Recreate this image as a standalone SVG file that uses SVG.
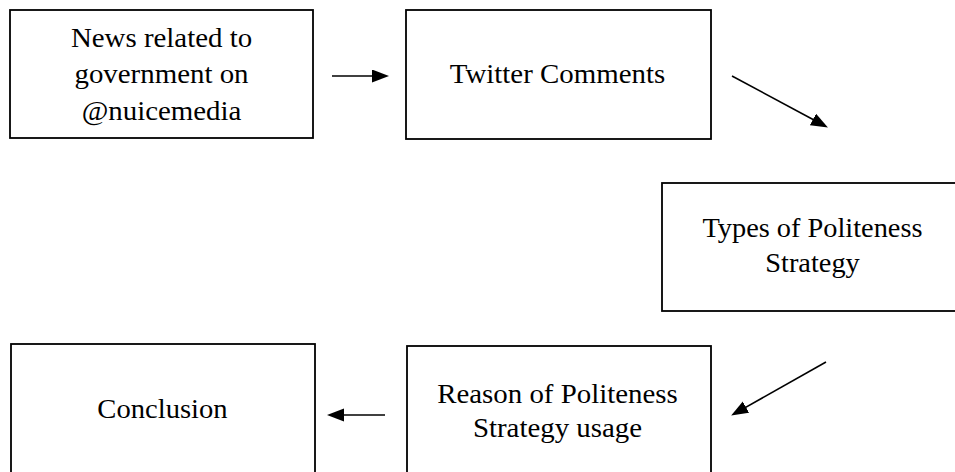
<svg xmlns="http://www.w3.org/2000/svg" width="955" height="472" viewBox="0 0 955 472">
  <style>
    .box { fill: #ffffff; stroke: #000000; stroke-width: 1.8; }
    .lbl { font-family: "Liberation Serif", "Times New Roman", serif; font-size: 27px; fill: #000000; text-anchor: middle; }
    .conn { stroke: #000000; stroke-width: 1.6; fill: none; marker-end: url(#arrow); }
  </style>
  <defs>
    <marker id="arrow" markerUnits="userSpaceOnUse" markerWidth="18" markerHeight="14" refX="8" refY="6.5" orient="auto">
      <path d="M0,0 L17,6.5 L0,13 Z" fill="#000000"/>
    </marker>
  </defs>
  <rect width="955" height="472" fill="#ffffff"/>

  <g id="node-news">
    <rect class="box" x="10" y="10" width="303" height="128"/>
    <g transform="translate(161.5,0) scale(1.07,1)">
      <text class="lbl" x="0" y="47.5">News related to</text>
      <text class="lbl" x="0" y="83.5">government on</text>
      <text class="lbl" x="0" y="120">@nuicemedia</text>
    </g>
  </g>

  <g id="node-twitter">
    <rect class="box" x="406" y="10" width="305" height="129"/>
    <g transform="translate(557.5,0) scale(1.07,1)">
      <text class="lbl" x="0" y="83">Twitter Comments</text>
    </g>
  </g>

  <g id="node-types">
    <rect class="box" x="662" y="183" width="300" height="128"/>
    <g transform="translate(812.5,0) scale(1.05,1)">
      <text class="lbl" x="0" y="237">Types of Politeness</text>
      <text class="lbl" x="0" y="272">Strategy</text>
    </g>
  </g>

  <g id="node-reason">
    <rect class="box" x="407" y="346" width="304" height="140"/>
    <g transform="translate(557.5,0) scale(1.07,1)">
      <text class="lbl" x="0" y="403">Reason of Politeness</text>
      <text class="lbl" x="0" y="437">Strategy usage</text>
    </g>
  </g>

  <g id="node-conclusion">
    <rect class="box" x="11" y="344" width="304" height="140"/>
    <g transform="translate(162.5,0) scale(1.06,1)">
      <text class="lbl" x="0" y="418">Conclusion</text>
    </g>
  </g>

  <g id="connectors">
    <line class="conn" x1="332" y1="76" x2="380" y2="76"/>
    <line class="conn" x1="732" y1="76" x2="820" y2="123.2"/>
    <line class="conn" x1="826" y1="362" x2="739" y2="411.1"/>
    <line class="conn" x1="385" y1="415" x2="336" y2="415"/>
  </g>
</svg>
